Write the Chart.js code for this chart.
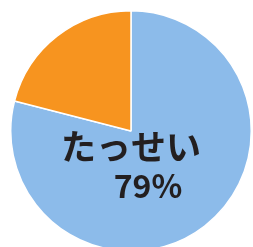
<!DOCTYPE html>
<html>
<head>
<meta charset="utf-8">
<script src="https://cdn.jsdelivr.net/npm/chart.js@4"></script>
<style>
  html, body { margin: 0; padding: 0; background: #fff; overflow: hidden; width: 253px; height: 247px; }
  #wrap { position: absolute; left: 10px; top: 10px; width: 242px; height: 242px; }
</style>
</head>
<body>
<div id="wrap"><canvas id="pie"></canvas></div>
<script>
// answers
const labels = ["たっせい", "みたっせい"];
const values = [79, 21];
const colors = ["#8cbbea", "#f7941f"];

// text inside the blue slice
const centerText = {
    id: "centerText",
    afterDraw(chart) {
        const ctx = chart.ctx;
        const area = chart.chartArea;
        const cx = (area.left + area.right) / 2;
        const cy = (area.top + area.bottom) / 2;
        ctx.save();
        ctx.fillStyle = "#231f20";
        ctx.textAlign = "center";
        ctx.textBaseline = "middle";
        ctx.font = "bold 35px 'Noto Sans CJK JP'";
        ctx.fillText(labels[0], cx, cy + 16);
        ctx.font = "bold 32px 'Noto Sans CJK JP'";
        ctx.fillText(values[0] + "%", cx + 17, cy + 55);
        ctx.restore();
    }
};

new Chart(document.getElementById("pie"), {
    type: "pie",
    data: {
        labels: labels,
        datasets: [{
            data: values,
            backgroundColor: colors,
            borderColor: "#ffffff",
            borderWidth: 1.5
        }]
    },
    options: {
        responsive: true,
        maintainAspectRatio: false,
        animation: false,
        layout: { padding: 0 },
        plugins: {
            legend: { display: false },
            tooltip: { enabled: false }
        }
    },
    plugins: [centerText]
});
</script>
</body>
</html>
